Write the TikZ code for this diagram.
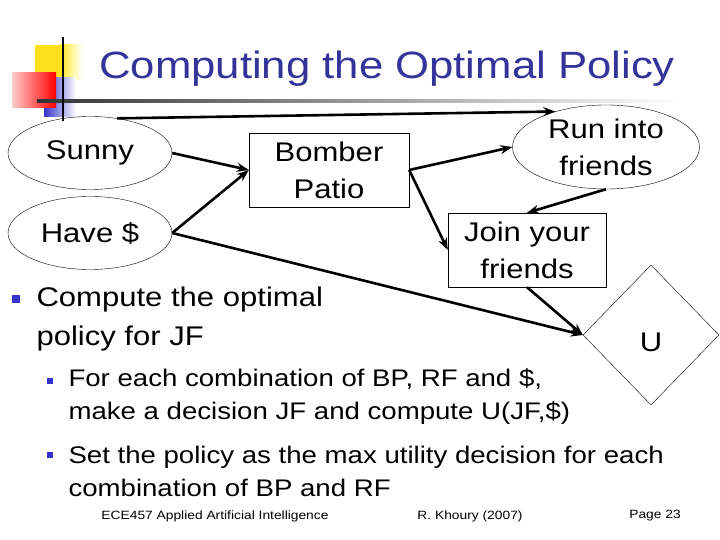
\documentclass[tikz,border=0pt]{standalone}
\usepackage{fontspec}
\setmainfont{Liberation Sans}[FakeStretch=1.15]
\usetikzlibrary{shapes.geometric,arrows.meta}
\definecolor{ttl}{RGB}{51,51,153}
\definecolor{bul}{RGB}{51,51,204}
\begin{document}
\begin{tikzpicture}[x=1pt,y=-1pt,
  ell/.style={draw,ellipse,thin,minimum width=164pt,minimum height=73pt,inner sep=0pt,font=\fontsize{27}{37}\selectfont,align=center},
  box/.style={draw,thin,minimum width=160pt,minimum height=74pt,inner sep=0pt,font=\fontsize{27}{37}\selectfont,align=center},
  arr/.style={-{Stealth[length=12pt,width=9pt]},line width=2.6pt},
  btxt/.style={anchor=west,font=\fontsize{27}{39}\selectfont,align=left},
  stxt/.style={anchor=west,font=\fontsize{24}{33}\selectfont,align=left},
  foot/.style={font=\fontsize{12}{14}\selectfont}]
\useasboundingbox (0,0) rectangle (720,540);
% logo
\fill[yellow!80!orange!90] (35,45) rectangle (66,80);
\shade[left color=yellow!80!orange!90,right color=white] (60,45) rectangle (82,80);
\shade[left color=bul,right color=white] (44,78) rectangle (76,117);
\shade[left color=red!20,right color=red] (12,73) rectangle (56,108);
\shade[left color=black!80,right color=white] (37,100) rectangle (680,103);
\draw[line width=2pt] (63,37) -- (63,121);
\node[font=\fontsize{38}{44}\selectfont,text=ttl,anchor=base] (title) at (387,79) {Computing the Optimal Policy};
% nodes
\node[ell] (sunny) at (90,153) {Sunny};
\node[ell] (have) at (90,233) {Have \$};
\node[box] (bp) at (329,170) {Bomber\\Patio};
\node[ell,minimum width=187pt,minimum height=84pt] (run) at (606,147) {Run into\\friends};
\node[box,minimum width=158pt] (jf) at (527,250) {Join your\\friends};
\node[draw,diamond,thin,minimum width=136pt,minimum height=140pt,inner sep=0pt] (u) at (651,335) {};
\node[font=\fontsize{27}{31}\selectfont] (ulab) at (651,342) {U};
% arrows
\draw[arr] (sunny.52) -- (run.145);
\draw[arr] (sunny.east) -- (bp.west);
\draw[arr] (have.east) -- (bp.west);
\draw[arr] (have.east) -- (u.west);
\draw[arr] (bp.east) -- (run.west);
\draw[arr] (bp.east) -- (jf.west);
\draw[arr] (run.south) -- (jf.north);
\draw[arr] (jf.south) -- (u.west);
% bullets
\fill[bul] (12,295) rectangle (20,303);
\node[btxt] (b1) at (33,319) {Compute the optimal\\policy for JF};
\fill[bul] (47,378) rectangle (53,384);
\node[stxt] (b2) at (65,397) {For each combination of BP, RF and \$,\\make a decision JF and compute U(JF,\$)};
\fill[bul] (47,452) rectangle (53,458);
\node[stxt] (b3) at (65,471) {Set the policy as the max utility decision for each\\combination of BP and RF};
\node[foot] (f1) at (215,516) {ECE457 Applied Artificial Intelligence};
\node[foot] (f2) at (470,516) {R. Khoury (2007)};
\node[foot] (f3) at (655,516) {Page 23};
\end{tikzpicture}
\end{document}
